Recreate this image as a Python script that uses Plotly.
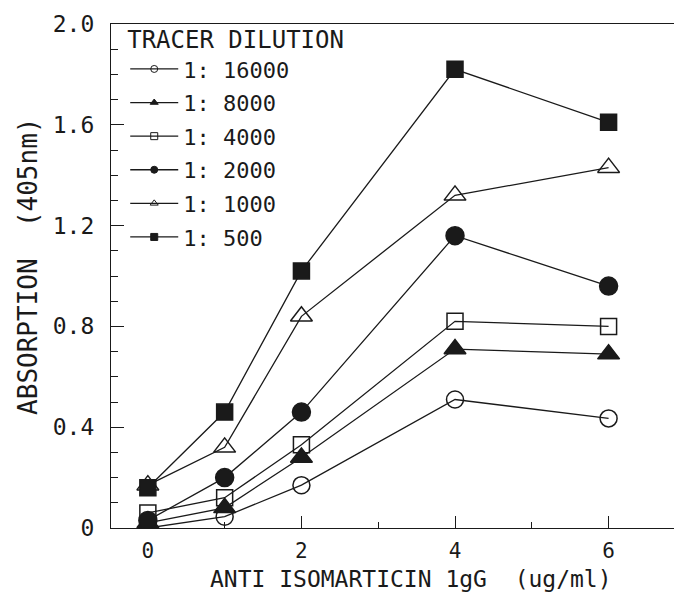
import plotly.graph_objects as go

x_vals = [0, 1, 2, 4, 6]
series_names = ["1: 16000", "1: 8000", "1: 4000", "1: 2000", "1: 1000", "1: 500"]
y_16000 = [0.00, 0.045, 0.17, 0.51, 0.435]
y_8000 = [0.02, 0.08, 0.28, 0.71, 0.69]
y_4000 = [0.06, 0.12, 0.33, 0.82, 0.80]
y_2000 = [0.03, 0.20, 0.46, 1.16, 0.96]
y_1000 = [0.17, 0.32, 0.84, 1.32, 1.43]
y_500 = [0.16, 0.46, 1.02, 1.82, 1.61]
y_ticks = [0, 0.4, 0.8, 1.2, 1.6, 2.0]
y_ticktext = ["0", "0.4", "0.8", "1.2", "1.6", "2.0"]
x_ticks = [0, 2, 4, 6]
x_ticktext = ["0", "2", "4", "6"]
x_title = "ANTI ISOMARTICIN 1gG  (ug/ml)"
y_title = "ABSORPTION  (405nm)"
legend_title = "TRACER DILUTION"

series = [y_16000, y_8000, y_4000, y_2000, y_1000, y_500]
symbols = ["circle-open", "triangle-up", "square-open", "circle", "triangle-up-open", "square"]
sizes = [17, 19, 16, 18, 19, 16]

FONT = "DejaVu Sans Mono"
INK = "#1a1a1a"

fig = go.Figure()
for name, ys, sym, sz in zip(series_names, series, symbols, sizes):
    fig.add_trace(go.Scatter(
        x=x_vals, y=ys, mode="lines+markers", showlegend=False,
        line=dict(color=INK, width=1.3),
        marker=dict(symbol=sym, size=sz, color=INK, line=dict(color=INK, width=1.5)),
    ))
for i, (name, sym) in enumerate(zip(series_names, symbols)):
    fig.add_trace(go.Scatter(
        x=[None], y=[None], mode="lines+markers", name=name, legendgroup=str(i),
        line=dict(color=INK, width=1.3),
        marker=dict(symbol=sym, size=7, color=INK, line=dict(color=INK, width=1)),
    ))

fig.update_layout(
    width=674, height=586,
    margin=dict(l=103, r=2, t=16, b=66),
    paper_bgcolor="white", plot_bgcolor="white",
    font=dict(family=FONT, size=22, color=INK),
    legend=dict(
        x=0.025, y=1.014, xanchor="left", yanchor="top",
        bgcolor="rgba(0,0,0,0)",
        title=dict(text=legend_title, font=dict(family=FONT, size=24)),
        font=dict(family=FONT, size=22),
        tracegroupgap=2,
        itemwidth=48,
    ),
    xaxis=dict(
        range=[-0.48, 6.93], showgrid=False, zeroline=False, automargin=False,
        showline=True, linecolor=INK, linewidth=1.3, mirror=True,
        ticks="inside", ticklen=12, tickwidth=1.3, tickcolor=INK,
        tickvals=x_ticks, ticktext=x_ticktext,
        minor=dict(dtick=1, tick0=0, ticks="inside", ticklen=6, tickwidth=1.3, tickcolor=INK),
        tickfont=dict(size=21), ticklabelstandoff=4,
    ),
    yaxis=dict(
        range=[0, 2.0], showgrid=False, zeroline=False, automargin=False,
        showline=True, linecolor=INK, linewidth=1.3, mirror=True,
        ticks="inside", ticklen=13, tickwidth=1.3, tickcolor=INK,
        tickvals=y_ticks, ticktext=y_ticktext,
        minor=dict(dtick=0.1, tick0=0, ticks="inside", ticklen=7, tickwidth=1.3, tickcolor=INK),
        tickfont=dict(size=23), ticklabelstandoff=11,
    ),
    annotations=[
        dict(text=x_title, xref="paper", yref="paper", x=0.528, y=0, yshift=-51,
             xanchor="center", yanchor="middle", showarrow=False,
             font=dict(family=FONT, size=23, color=INK)),
        dict(text=y_title, xref="paper", yref="paper", x=0, xshift=-83, y=0.518,
             xanchor="center", yanchor="middle", textangle=-90, showarrow=False,
             font=dict(family=FONT, size=26, color=INK)),
    ],
)
fig.write_html("out.html")
